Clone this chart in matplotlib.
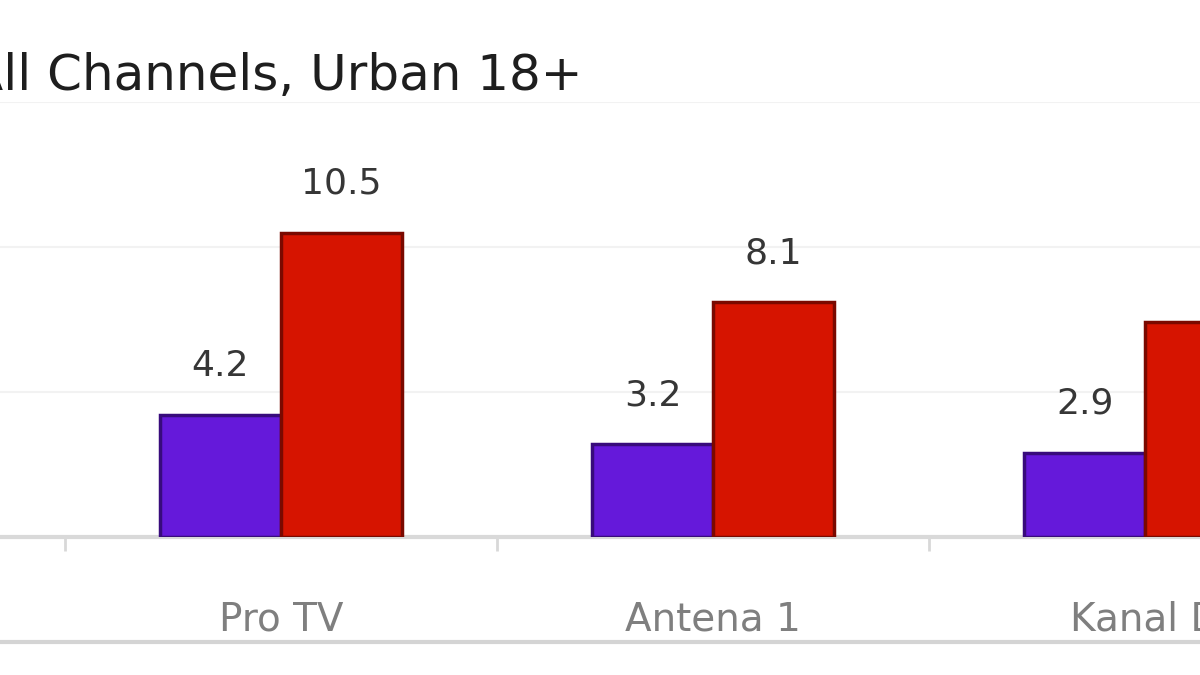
import matplotlib.pyplot as plt
from matplotlib.lines import Line2D

# data (third group is cut by the right edge)
channels = ["Pro TV", "Antena 1", "Kanal D"]
series_a = [4.2, 3.2, 2.9]
series_b = [10.5, 8.1, 7.4]
title = "All Channels, Urban 18+"

plt.rcParams['font.family'] = ['DejaVu Sans']

fig = plt.figure(figsize=(12, 6.75), dpi=100)
ax = fig.add_axes([0, 0.2044, 1, 0.6444])

x = list(range(len(channels)))
w = 0.28
bars_a = ax.bar([i - w / 2 for i in x], series_a, w, color="#6519da",
                edgecolor="#380b7c", linewidth=2.5, zorder=3)
bars_b = ax.bar([i + w / 2 for i in x], series_b, w, color="#d61400",
                edgecolor="#7a0900", linewidth=2.5, zorder=3)

for bars in (bars_a, bars_b):
    for b in bars:
        ax.annotate("%.1f" % b.get_height(),
                    (b.get_x() + b.get_width() / 2, b.get_height()),
                    xytext=(0, 23), textcoords="offset points",
                    ha="center", va="bottom", fontsize=26, color="#363636")

ax.set_xlim(-0.65, 2.127)
ax.set_ylim(0, 15)
ax.set_yticks([5, 10, 15])
ax.yaxis.grid(True, color="#f2f2f2", linewidth=1.5, zorder=0)
ax.tick_params(axis="y", left=False, labelleft=False)

# category boundaries as tick marks, names below
ax.set_xticks([-0.5, 0.5, 1.5])
ax.set_xticklabels([])
ax.tick_params(axis="x", length=10, width=2, color="#d8d8d8")
for i, name in enumerate(channels):
    ax.text(i, -2.85, name, ha="center", va="center", fontsize=28,
            color="#7f7f7f")

for s in ("top", "right", "left"):
    ax.spines[s].set_visible(False)
ax.spines["bottom"].set_color("#d9d9d9")
ax.spines["bottom"].set_linewidth(3)

fig.text(-0.026, 0.888, title, ha="left", va="center", fontsize=36,
         color="#1e1e1e")

# bottom border line
fig.add_artist(Line2D([0, 1], [0.049, 0.049], transform=fig.transFigure,
                      color="#d4d4d4", linewidth=3))

fig.savefig("out.png", dpi=100, facecolor="white")
